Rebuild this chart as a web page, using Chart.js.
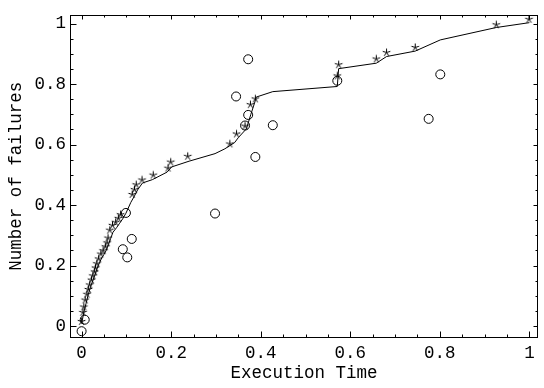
<!DOCTYPE html>
<html>
<head>
<meta charset="utf-8">
<script src="https://cdn.jsdelivr.net/npm/chart.js@4.4.1/dist/chart.umd.min.js"></script>
<style>
html,body{margin:0;padding:0;background:#fff;}
canvas{display:block;}
</style>
</head>
<body>
<canvas id="c" width="544" height="388" style="width:544px;height:388px"></canvas>
<script>
// ---- data ----
const starX = [0.000,0.003,0.005,0.008,0.012,0.015,0.018,0.022,0.025,0.029,0.031,0.034,0.038,0.043,0.048,0.053,0.057,0.059,0.063,0.069,0.076,0.082,0.087,0.113,0.118,0.122,0.135,0.160,0.193,0.199,0.237,0.331,0.346,0.365,0.377,0.388,0.571,0.574,0.658,0.681,0.745,0.926,0.999];
const starY = [0.015,0.045,0.063,0.086,0.105,0.121,0.136,0.152,0.166,0.179,0.192,0.206,0.222,0.238,0.249,0.262,0.275,0.291,0.317,0.333,0.343,0.356,0.368,0.435,0.451,0.467,0.483,0.499,0.522,0.542,0.561,0.602,0.635,0.661,0.732,0.751,0.827,0.864,0.883,0.904,0.921,0.996,1.014];

const lineX = [0,0.005,0.01,0.015,0.02,0.025,0.03,0.035,0.04,0.045,0.05,0.055,0.06,0.065,0.07,0.078,0.085,0.092,0.099,0.11,0.118,0.125,0.136,0.158,0.191,0.201,0.24,0.298,0.32,0.342,0.35,0.368,0.378,0.387,0.39,0.427,0.571,0.574,0.658,0.681,0.745,0.801,0.926,1.0];
const lineY = [0.008,0.045,0.075,0.105,0.13,0.15,0.17,0.192,0.21,0.225,0.237,0.25,0.27,0.29,0.31,0.325,0.34,0.355,0.373,0.409,0.43,0.45,0.473,0.484,0.509,0.526,0.545,0.57,0.586,0.607,0.623,0.652,0.70,0.741,0.757,0.775,0.792,0.851,0.869,0.891,0.909,0.946,0.987,1.003];

const circX = [0.000,0.007,0.092,0.102,0.112,0.099,0.298,0.345,0.365,0.372,0.372,0.388,0.427,0.571,0.775,0.801];
const circY = [-0.017,0.021,0.254,0.227,0.288,0.374,0.372,0.759,0.663,0.698,0.882,0.559,0.664,0.811,0.685,0.832];

const xTicks = [0,0.2,0.4,0.6,0.8,1];
const xTickLabels = ['0','0.2','0.4','0.6','0.8','1'];
const yTicks = [0,0.2,0.4,0.6,0.8,1];
const yTickLabels = ['0','0.2','0.4','0.6','0.8','1'];
const xTitle = 'Execution Time';
const yTitle = 'Number of failures';

// ---- styling helpers ----
const FONT = "'Liberation Mono', 'DejaVu Sans Mono', monospace";
const FSIZE = 17.5;
function makeStar(){
  const c = document.createElement('canvas');
  c.width = 11; c.height = 11;
  const g = c.getContext('2d');
  g.strokeStyle = '#000';
  g.lineWidth = 1;
  g.lineCap = 'butt';
  const cx = 5.5, cy = 5.5, r = 4;
  for (let i = 0; i < 5; i++) {
    const a = -Math.PI/2 + i*2*Math.PI/5;
    g.beginPath();
    g.moveTo(cx, cy);
    g.lineTo(cx + r*Math.cos(a), cy + r*Math.sin(a));
    g.stroke();
  }
  return c;
}
const starImg = makeStar();

const zip = (xs, ys) => xs.map((x,i)=>({x:x, y:ys[i]}));

const framePlugin = {
  id: 'frame',
  afterDraw(chart){
    const {ctx, chartArea:a, scales:{x, y}} = chart;
    ctx.save();
    ctx.strokeStyle = '#000';
    ctx.lineWidth = 1;
    const L = Math.round(a.left)+0.5, R = Math.round(a.right)-0.5, T = Math.round(a.top)+0.5, B = Math.round(a.bottom)-0.5;
    ctx.strokeRect(L, T, R-L, B-T);
    ctx.beginPath();
    for (let k = 0; k <= 20; k++) {
      const v = k*0.05;
      const major = (k % 4 === 0);
      const px = Math.round(x.getPixelForValue(v))+0.5;
      const lb = major ? 6 : 3, lt = major ? 4 : 2;
      ctx.moveTo(px, B); ctx.lineTo(px, B-lb);
      ctx.moveTo(px, T); ctx.lineTo(px, T+lt);
      const py = Math.round(y.getPixelForValue(v))+0.5;
      ctx.moveTo(L, py); ctx.lineTo(L+lb, py);
      ctx.moveTo(R, py); ctx.lineTo(R-lt, py);
    }
    ctx.stroke();
    ctx.restore();
  }
};

new Chart(document.getElementById('c'), {
  type: 'scatter',
  data: {
    datasets: [
      { type:'line', data: zip(lineX, lineY), borderColor:'#000', borderWidth:1, pointRadius:0, tension:0, fill:false },
      { data: zip(starX, starY), pointStyle: starImg, pointRadius:5, borderColor:'#000', backgroundColor:'#000' },
      { data: zip(circX, circY), pointStyle:'circle', pointRadius:4.5, borderColor:'#000', borderWidth:1, backgroundColor:'rgba(0,0,0,0)' }
    ]
  },
  options: {
    responsive:false, animation:false, devicePixelRatio:1,
    layout:{ padding:{ top:5, right:1, left:0, bottom:0 } },
    plugins:{ legend:{display:false}, tooltip:{enabled:false} },
    scales:{
      x:{
        type:'linear', min:-0.0259, max:1.0192,
        grid:{display:false, drawTicks:false}, border:{display:false},
        afterBuildTicks(s){ s.ticks = xTicks.map(v=>({value:v})); },
        afterFit(s){ s.height = 50; },
        ticks:{ color:'#000', padding:5, maxRotation:0, autoSkip:false,
          font:{family:FONT, size:FSIZE},
          callback:(v)=>{ const i = xTicks.findIndex(t=>Math.abs(t-v)<1e-9); return i>=0 ? xTickLabels[i] : ''; } },
        title:{ display:true, text:xTitle, color:'#000', font:{family:FONT, size:FSIZE}, padding:{top:0, bottom:4} }
      },
      y:{
        type:'linear', min:-0.0395, max:1.030,
        grid:{display:false, drawTicks:false}, border:{display:false},
        afterBuildTicks(s){ s.ticks = yTicks.map(v=>({value:v})); },
        afterFit(s){ s.width = 70; },
        ticks:{ color:'#000', padding:4, autoSkip:false,
          font:{family:FONT, size:FSIZE},
          callback:(v)=>{ const i = yTicks.findIndex(t=>Math.abs(t-v)<1e-9); return i>=0 ? yTickLabels[i] : ''; } },
        title:{ display:true, text:yTitle, color:'#000', font:{family:FONT, size:FSIZE}, padding:{top:6, bottom:0} }
      }
    }
  },
  plugins:[framePlugin]
});
</script>
</body>
</html>
